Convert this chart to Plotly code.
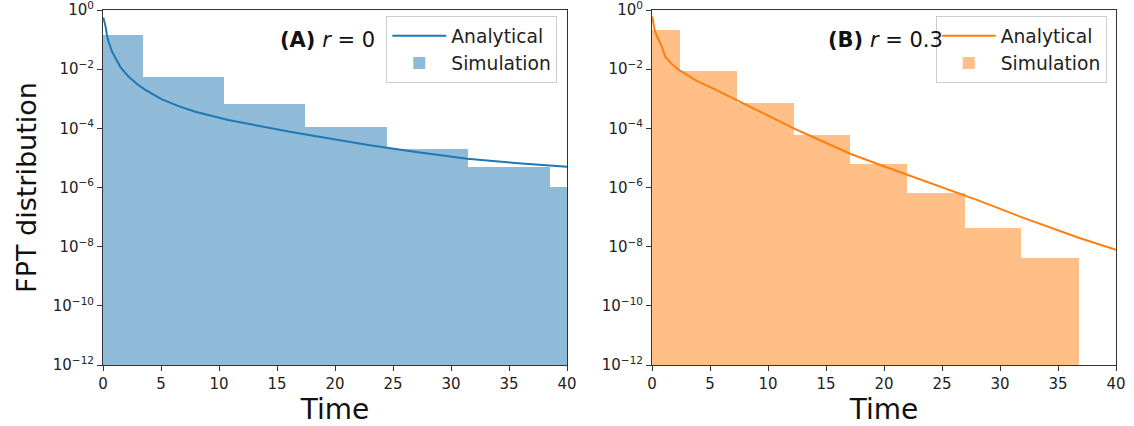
import plotly.graph_objects as go

# ---------------- data ----------------
# Panel A (r = 0)
edges_A = [0.0, 3.41, 10.43, 17.45, 24.47, 31.49, 38.51, 45.53]
sim_A = [1.43e-1, 5.3e-3, 6.6e-4, 1.1e-4, 2.0e-5, 5.0e-6, 1.07e-6]
t_A = [0.02, 0.1, 0.2, 0.34, 0.48, 0.78, 1.06, 1.49, 2.2, 2.93, 3.65, 5.08,
       6.52, 7.96, 10.8, 13.7, 16.0, 18.0, 20.0, 23.0, 27.0, 31.4, 35.5, 40.0]
ana_A = [5.62e-1, 4.17e-1, 3.09e-1, 1.43e-1, 8.51e-2, 3.89e-2, 2.34e-2,
         1.20e-2, 5.62e-3, 3.16e-3, 2.00e-3, 9.55e-4, 5.62e-4, 3.63e-4,
         1.91e-4, 1.15e-4, 7.76e-5, 5.75e-5, 4.27e-5, 2.69e-5, 1.58e-5,
         9.33e-6, 6.76e-6, 5.01e-6]

# Panel B (r = 0.3)
edges_B = [0.0, 2.44, 7.3, 12.2, 17.05, 22.0, 26.95, 31.85, 36.78]
sim_B = [2.1e-1, 8.9e-3, 7.4e-4, 5.9e-5, 6.0e-6, 6.3e-7, 4.4e-8, 4.2e-9]
t_B = [0.02, 0.1, 0.23, 0.45, 0.72, 1.15, 1.7, 2.35, 3.73, 5.2, 7.27, 9.91,
       12.21, 14.6, 17.03, 19.68, 21.98, 25.0, 28.0, 31.84, 34.3, 36.78, 40.0]
ana_B = [6.03e-1, 3.55e-1, 2.09e-1, 1.2e-1, 7.59e-2, 2.63e-2, 1.48e-2,
         9.33e-3, 4.27e-3, 2.29e-3, 9.12e-4, 2.82e-4, 1.0e-4, 3.8e-5,
         1.41e-5, 5.75e-6, 2.69e-6, 1.0e-6, 3.80e-7, 1.0e-7, 4.37e-8,
         2.0e-8, 7.76e-9]

x_ticks = [0, 5, 10, 15, 20, 25, 30, 35, 40]
y_tickvals = [1e0, 1e-2, 1e-4, 1e-6, 1e-8, 1e-10, 1e-12]
y_ticktext = ["10<sup>0</sup>", "10<sup>−2</sup>", "10<sup>−4</sup>",
              "10<sup>−6</sup>", "10<sup>−8</sup>", "10<sup>−10</sup>",
              "10<sup>−12</sup>"]
labels = ["<b>(A)</b> <i>r</i> = 0", "<b>(B)</b> <i>r</i> = 0.3"]

# ---------------- figure ----------------
W, H = 1134, 426
ML, MR, MT, MB = 103, 18, 10, 61
PW, PH = W - ML - MR, H - MT - MB
FONT = "DejaVu Sans"
blue, orange = "#1f77b4", "#ff7f0e"


def centers(e):
    return [(e[i] + e[i + 1]) / 2 for i in range(len(e) - 1)]


def widths(e):
    return [e[i + 1] - e[i] for i in range(len(e) - 1)]


def px(x):
    return (x - ML) / PW


def py(y):
    return (H - MB - y) / PH


fig = go.Figure()
fig.add_trace(go.Scatter(x=t_A, y=ana_A, mode="lines", name="Analytical",
                         line=dict(color=blue, width=2),
                         xaxis="x", yaxis="y", legend="legend"))
fig.add_trace(go.Bar(x=centers(edges_A), y=sim_A, width=widths(edges_A),
                     name="Simulation", marker=dict(color="rgba(31,119,180,0.5)", line=dict(width=0)),
                     xaxis="x", yaxis="y", legend="legend"))
fig.add_trace(go.Scatter(x=t_B, y=ana_B, mode="lines", name="Analytical",
                         line=dict(color=orange, width=2),
                         xaxis="x2", yaxis="y2", legend="legend2"))
fig.add_trace(go.Bar(x=centers(edges_B), y=sim_B, width=widths(edges_B),
                     name="Simulation", marker=dict(color="rgba(255,127,14,0.5)", line=dict(width=0)),
                     xaxis="x2", yaxis="y2", legend="legend2"))

axcommon = dict(showgrid=False, zeroline=False, showline=True, linecolor="#333",
                linewidth=1, mirror=True, ticks="outside", ticklen=5, tickwidth=1,
                tickcolor="#333", automargin=False, ticklabeloverflow="allow",
                tickfont=dict(family=FONT, size=15, color="#222"))

xa = dict(axcommon, range=[0, 40], tickvals=x_ticks,
          title=dict(text="Time", font=dict(family=FONT, size=28, color="#111"), standoff=12))
ya = dict(axcommon, type="log", range=[-12, 0], tickvals=y_tickvals, ticktext=y_ticktext)

legcommon = dict(bgcolor="rgba(255,255,255,0.8)", bordercolor="#cccccc", borderwidth=1,
                 font=dict(family=FONT, size=18.7, color="#222"),
                 xanchor="right", yanchor="top", y=py(16),
                 itemwidth=54, traceorder="normal", tracegroupgap=0)

fig.update_layout(
    width=W, height=H, margin=dict(l=ML, r=MR, t=MT, b=MB, autoexpand=False),
    paper_bgcolor="white", plot_bgcolor="white",
    font=dict(family=FONT), barmode="overlay", bargap=0,
    xaxis=dict(xa, domain=[0, px(567)], anchor="y"),
    yaxis=dict(ya, domain=[0, 1], anchor="x",
               title=dict(text="FPT distribution", font=dict(family=FONT, size=27, color="#111"),
                          standoff=8)),
    xaxis2=dict(xa, domain=[px(652), 1], anchor="y2"),
    yaxis2=dict(ya, domain=[0, 1], anchor="x2"),
    legend=dict(legcommon, x=px(557.3)),
    legend2=dict(legcommon, x=px(1106.7)),
    annotations=[
        dict(text=labels[0], xref="paper", yref="paper", x=px(278), y=py(40),
             xanchor="left", yanchor="middle", showarrow=False,
             font=dict(family=FONT, size=21, color="#111")),
        dict(text=labels[1], xref="paper", yref="paper", x=px(826), y=py(40),
             xanchor="left", yanchor="middle", showarrow=False,
             font=dict(family=FONT, size=21, color="#111")),
    ],
    showlegend=True,
)

fig.write_html("out.html")
